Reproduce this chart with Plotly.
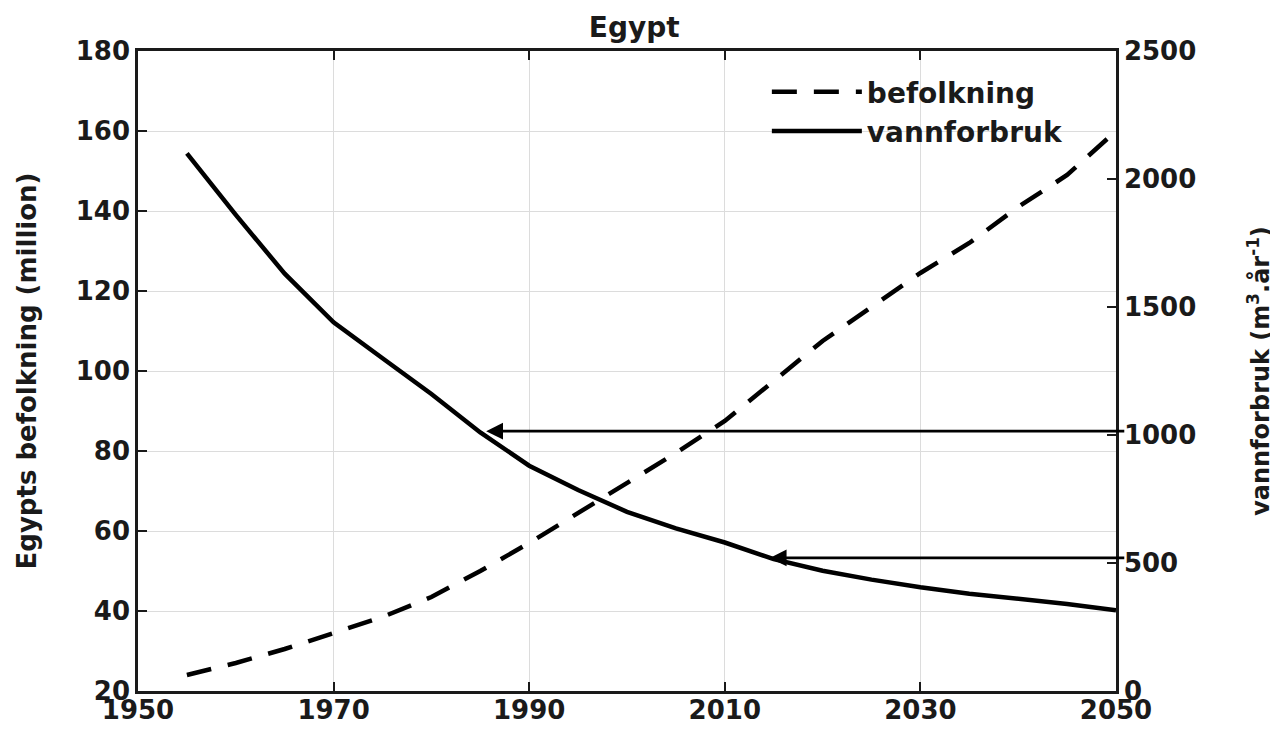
import plotly.graph_objects as go

# years on the x axis
years = [1955, 1960, 1965, 1970, 1975, 1980, 1985, 1990, 1995, 2000,
         2005, 2010, 2015, 2020, 2025, 2030, 2035, 2040, 2045, 2050]

# Egypts befolkning (million)
befolkning = [24, 27, 30.5, 34.5, 38.5, 43.5, 50, 57, 64.5, 72,
              79.5, 87.5, 97.5, 107.5, 116, 124.5, 132, 141, 149, 160]

# vannforbruk (m3 per person per year)
vannforbruk = [2100, 1860, 1630, 1440, 1300, 1160, 1010, 880, 785, 700,
               635, 580, 515, 470, 435, 405, 380, 360, 340, 315]

x_ticks = [1950, 1970, 1990, 2010, 2030, 2050]
y_ticks = [20, 40, 60, 80, 100, 120, 140, 160, 180]
y2_ticks = [0, 500, 1000, 1500, 2000, 2500]

# arrows: (level on right axis, year where arrow ends)
arrow_levels = [1015, 520]
arrow_years = [1985.6, 2014.6]

FONT = "DejaVu Sans"
INK = "#1a1a1a"

fig = go.Figure()

fig.add_trace(go.Scatter(
    x=years, y=befolkning, name="befolkning", mode="lines",
    line=dict(color="black", width=4.5, dash="25px,17px"),
    yaxis="y"
))
fig.add_trace(go.Scatter(
    x=years, y=vannforbruk, name="vannforbruk", mode="lines",
    line=dict(color="black", width=4.5),
    yaxis="y2"
))

for lvl, yr in zip(arrow_levels, arrow_years):
    fig.add_annotation(
        x=yr, y=lvl, xref="x", yref="y2",
        ax=2051, ay=lvl, axref="x", ayref="y2",
        showarrow=True, arrowhead=2, arrowsize=1.2, arrowwidth=2.8,
        arrowcolor="black", text=""
    )

axis_common = dict(
    showline=True, linecolor=INK, linewidth=2.5,
    ticks="inside", ticklen=9, tickwidth=2, tickcolor=INK,
    tickfont=dict(family=FONT, size=26, color=INK, weight="bold"),
    showgrid=True, gridcolor="#dcdcdc", gridwidth=1,
    zeroline=False, automargin=False,
)

# page body adds a small offset, so margins are shifted a few px
fig.update_layout(
    width=1278, height=735,
    margin=dict(l=130, r=170, t=43, b=52),
    plot_bgcolor="white", paper_bgcolor="white",
    font=dict(family=FONT, color=INK),
    title=dict(text="<b>Egypt</b>", x=0.49, xanchor="center", y=0.987, yanchor="top",
               font=dict(family=FONT, size=28, color=INK), automargin=False),
    xaxis=dict(range=[1950, 2050], tickvals=x_ticks, mirror="ticks",
               ticklabelstandoff=-6, **axis_common),
    yaxis=dict(range=[20, 180], tickvals=y_ticks,
               title=dict(text="<b>Egypts befolkning (million)</b>", standoff=32,
                          font=dict(family=FONT, size=26, color=INK)),
               **axis_common),
    yaxis2=dict(range=[0, 2500], tickvals=y2_ticks, overlaying="y", side="right",
                title=dict(text="<b>vannforbruk (m<sup>3</sup>.år<sup>-1</sup>)</b>", standoff=57,
                           font=dict(family=FONT, size=24, color=INK)),
                **{**axis_common, "showgrid": False}),
    legend=dict(x=0.643, y=0.975, xanchor="left", yanchor="top",
                bgcolor="rgba(0,0,0,0)", borderwidth=0, itemwidth=90,
                font=dict(family=FONT, size=28, color=INK, weight="bold"),
                tracegroupgap=0),
    showlegend=True,
)

fig.write_html("out.html")
